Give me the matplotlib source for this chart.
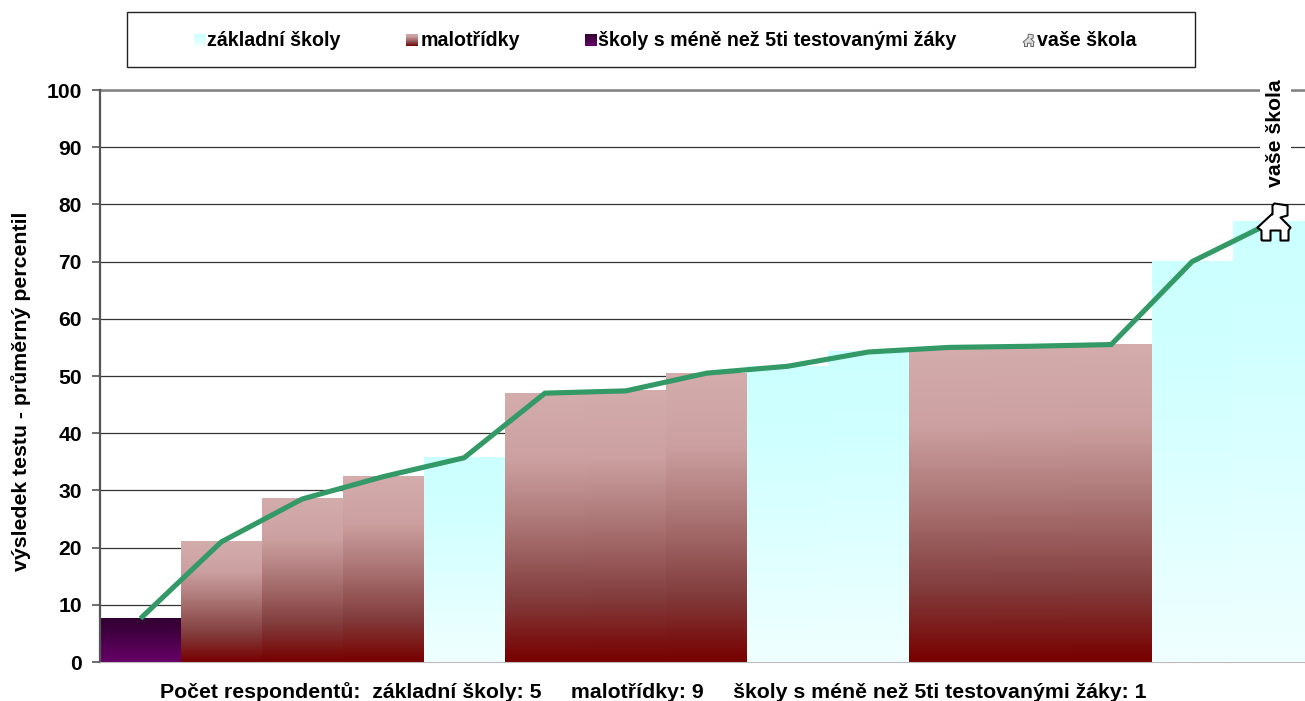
import numpy as np
import matplotlib.pyplot as plt
from matplotlib.lines import Line2D
from matplotlib.path import Path
from matplotlib.patches import Rectangle

plt.rcParams['font.family'] = ['Liberation Sans', 'DejaVu Sans']
plt.rcParams['font.weight'] = 'bold'

# data
values = [7.6, 21.0, 28.5, 32.4, 35.7, 47.0, 47.4, 50.5, 51.7, 54.2, 55.0, 55.2, 55.5, 70.0, 77.0]
groups = ['m', 'k', 'k', 'k', 'z', 'k', 'k', 'k', 'z', 'z', 'k', 'k', 'k', 'z', 'z']
yticks = [0, 10, 20, 30, 40, 50, 60, 70, 80, 90, 100]
legend_labels = ['základní školy', 'malotřídky', 'školy s méně než 5ti testovanými žáky', 'vaše škola']
ylabel = 'výsledek testu - průměrný percentil'
footer = 'Počet respondentů:  základní školy: 5     malotřídky: 9     školy s méně než 5ti testovanými žáky: 1'
marker_label = 'vaše škola'

W, H = 1305, 701
BAR_PX = 80.9  # the last bar runs off the right edge of the picture
# gradient stops, top to bottom
stops = [0, 0.25, 0.5, 0.77, 1]
grads = {
    'z': [(204, 255, 255), (208, 255, 255), (218, 255, 255), (230, 255, 255), (240, 255, 255)],
    'k': [(212, 172, 172), (204, 160, 160), (170, 115, 115), (130, 60, 60), (120, 0, 0)],
    'm': [(50, 0, 50), (60, 0, 60), (75, 0, 75), (90, 0, 90), (102, 0, 102)],
}


def grad_img(key):
    t = np.linspace(0, 1, 128)
    cols = np.array(grads[key], dtype=float)
    return np.stack([np.interp(t, stops, cols[:, c]) for c in range(3)], axis=1)[:, None, :] / 255


def fx(px):
    return px / W


def fy(py):
    return 1 - py / H


# house outline, pixels around the marked point, y up
house = Path([(-12, -18), (-12, -8), (-16, -5), (-2, 8), (-1, 8), (-1, 17), (1, 19), (14, 17), (14, 7), (7, 5),
              (17, -5), (15, -8), (15, -18), (7, -18), (7, -8), (-3, -8), (-3, -18), (-12, -18)])

fig = plt.figure(figsize=(W / 100, H / 100), dpi=100)
ax = fig.add_axes([fx(100), fy(662), 1205 / W, 572 / H])

x = np.arange(len(values))
for i, (v, g) in enumerate(zip(values, groups)):
    ax.imshow(grad_img(g), extent=(i - 0.5, i + 0.5, 0, v), aspect='auto', zorder=2, interpolation='bilinear')

ax.plot(x, values, color='#339966', lw=3.7, zorder=3, solid_joinstyle='miter', solid_capstyle='butt')
ax.plot(x[-1:], values[-1:], ls='none', marker=house, markersize=27.4, mfc='white', mec='black', mew=1.5,
        zorder=4, clip_on=False)

ax.set_xlim(-0.5, 1205 / BAR_PX - 0.5)
ax.set_ylim(0, 100)
ax.set_xticks([])
ax.set_yticks(yticks)
ax.tick_params(axis='y', length=6, width=1.2, color='#555555', labelsize=15.2, pad=7)
ax.grid(axis='y', color='#333333', lw=0.9, zorder=1)
ax.set_axisbelow(True)
for s in ['top', 'right']:
    ax.spines[s].set_visible(False)
ax.spines['left'].set_color('#555555')
ax.spines['left'].set_linewidth(1.6)
ax.spines['bottom'].set_color('#bbbbbb')
ax.axhline(100, color='#808080', lw=1.8, zorder=1, clip_on=False)

ax.text(x[-1] + 0.03, 83, marker_label, rotation=90, ha='center', va='bottom', fontsize=15.3, zorder=5, clip_on=False,
        bbox=dict(fc='white', ec='none', pad=4))

fig.text(fx(21.5), fy(391), ylabel, rotation=90, ha='center', va='center', fontsize=15.3)
fig.text(fx(653), fy(692), footer, ha='center', va='center', fontsize=15.28)

# legend
fig.add_artist(Rectangle((fx(127), fy(67)), 1068 / W, 55 / H, transform=fig.transFigure, fc='white', ec='#222222',
                         lw=1, zorder=-1))
swatches = [(194, 'z'), (406, 'k'), (585, 'm')]
for px, g in swatches:
    la = fig.add_axes([fx(px), fy(46.5), 12 / W, 12.5 / H])
    la.imshow(grad_img(g), aspect='auto')
    la.axis('off')
fig.add_artist(Line2D([fx(1028)], [fy(40)], transform=fig.transFigure, marker=house, markersize=9.2, mfc='#dddddd',
                      mec='#666666', mew=0.7, ls='none'))
for px, label in zip([207, 421, 598, 1037], legend_labels):
    fig.text(fx(px), fy(40.5), label, ha='left', va='center', fontsize=14.1)

fig.savefig('out.png', dpi=100)
